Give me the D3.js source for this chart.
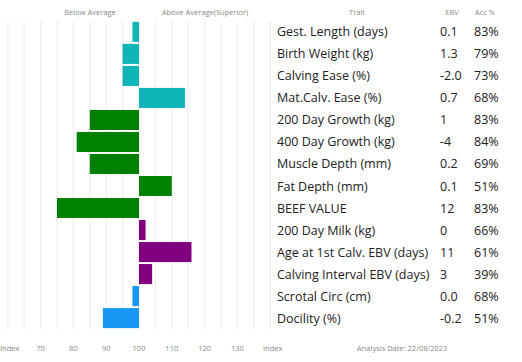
<!DOCTYPE html>
<html>
<head>
<meta charset="utf-8">
<script src="https://cdn.jsdelivr.net/npm/d3@7"></script>
<style>
  body { margin: 0; background: #fff; }
  svg { display: block; font-family: "Open Sans", sans-serif; }
</style>
</head>
<body>
<div id="chart"></div>
<script>
// Datos de la gráfica
const traits = ['Gest. Length (days)', 'Birth Weight (kg)', 'Calving Ease (%)', 'Mat.Calv. Ease (%)',
  '200 Day Growth (kg)', '400 Day Growth (kg)', 'Muscle Depth (mm)', 'Fat Depth (mm)', 'BEEF VALUE',
  '200 Day Milk (kg)', 'Age at 1st Calv. EBV (days)', 'Calving Interval EBV (days)', 'Scrotal Circ (cm)', 'Docility (%)'];
const ebv = ['0.1', '1.3', '-2.0', '0.7', '1', '-4', '0.2', '0.1', '12', '0', '11', '3', '0.0', '-0.2'];
const acc = ['83%', '79%', '73%', '68%', '83%', '84%', '69%', '51%', '83%', '66%', '61%', '39%', '68%', '51%'];
const indexValues = [98, 95, 95, 114, 85, 81, 85, 110, 75, 102, 116, 104, 98, 89];
const groups = ['a', 'a', 'a', 'a', 'b', 'b', 'b', 'b', 'b', 'c', 'c', 'c', 'd', 'd'];
const gridTicks = d3.range(60, 136, 5);
const axisTicks = [70, 80, 90, 100, 110, 120, 130];

const COLORS = { a: '#0fb4b6', b: '#008000', c: '#800080', d: '#1797f5' };

const width = 522, height = 362;
const svg = d3.select('#chart').append('svg')
  .attr('width', width).attr('height', height);

const x = d3.scaleLinear().domain([60, 135]).range([7.8, 253.8]);
const y = d3.scaleBand().domain(traits).range([21, 329]).paddingInner(0.09).paddingOuter(0.04);

// Rejilla vertical
svg.append('g').selectAll('line').data(gridTicks).enter().append('line')
  .attr('x1', d => x(d)).attr('x2', d => x(d))
  .attr('y1', 21).attr('y2', 329)
  .attr('stroke', '#ececec').attr('stroke-width', 1);

// Barras
svg.append('g').selectAll('rect').data(indexValues).enter().append('rect')
  .attr('x', d => x(Math.min(d, 100)))
  .attr('width', d => Math.abs(x(d) - x(100)))
  .attr('y', (d, i) => y(traits[i]))
  .attr('height', y.bandwidth())
  .attr('fill', (d, i) => COLORS[groups[i]]);

// Cabeceras
const head = svg.append('g').attr('fill', '#888').attr('font-size', 7.5).attr('text-anchor', 'middle');
head.append('text').attr('x', 90).attr('y', 15).text('Below Average');
head.append('text').attr('x', 205).attr('y', 15).text('Above Average(Superior)');
head.append('text').attr('x', 357).attr('y', 15).text('Trait');
head.append('text').attr('x', 452).attr('y', 15).text('EBV');
head.append('text').attr('x', 485).attr('y', 15).text('Acc %');

// Eje inferior
const axis = svg.append('g').attr('fill', '#888').attr('font-size', 7.5);
axis.selectAll('text.tick').data(axisTicks).enter().append('text')
  .attr('class', 'tick')
  .attr('x', d => x(d)).attr('y', 351)
  .attr('text-anchor', 'middle').text(d => d);
axis.append('text').attr('x', 0).attr('y', 351).text('Index');
axis.append('text').attr('x', 263).attr('y', 351).text('Index');
axis.append('text').attr('x', 357).attr('y', 351).text('Analysis Date: 22/08/2023');

// Tabla
svg.append('line').attr('x1', 270.5).attr('x2', 270.5).attr('y1', 21).attr('y2', 329)
  .attr('stroke', '#e6e6e6');

const rows = svg.append('g').attr('fill', '#222').attr('font-size', 12.5);
traits.forEach((t, i) => {
  const cy = y(t) + y.bandwidth() / 2 + 4.5;
  rows.append('text').attr('x', 277).attr('y', cy).text(t);
  rows.append('text').attr('x', 440).attr('y', cy).text(ebv[i]);
  rows.append('text').attr('x', 474).attr('y', cy).text(acc[i]);
});
</script>
</body>
</html>
